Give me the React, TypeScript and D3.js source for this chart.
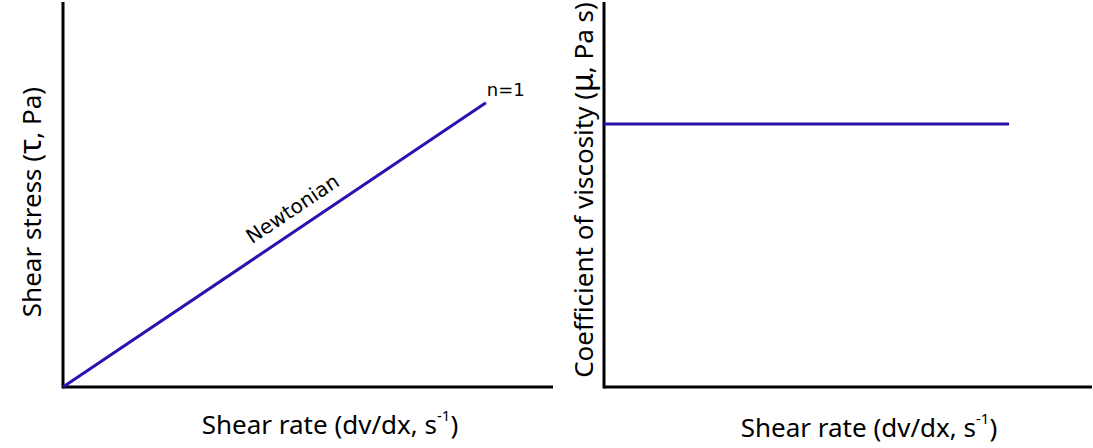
import React from 'react'
import * as d3 from 'd3'

// shear rate / response values (arbitrary units 0-10)
const stressRate = [0, 8.63]
const stressValues = [0, 7.38]
const viscosityRate = [0, 8.3]
const viscosityValues = [6.83, 6.83]

const lineColor = '#2b12b0'
const labelFont = 'Noto Sans, DejaVu Sans, sans-serif'
const smallFont = 'DejaVu Sans, Verdana, sans-serif'

const W = 1093
const H = 448

export default function App() {
  const yScale = d3.scaleLinear().domain([0, 10]).range([387, 2])
  const xLeft = d3.scaleLinear().domain([0, 10]).range([63, 553])
  const xRight = d3.scaleLinear().domain([0, 10]).range([604, 1092])

  const stressLine = d3
    .line<number>()
    .x((d, i) => xLeft(stressRate[i]))
    .y(d => yScale(d))
  const viscLine = d3
    .line<number>()
    .x((d, i) => xRight(viscosityRate[i]))
    .y(d => yScale(d))

  // label sits along the Newtonian line
  const x0 = xLeft(stressRate[0])
  const y0 = yScale(stressValues[0])
  const x1 = xLeft(stressRate[1])
  const y1 = yScale(stressValues[1])
  const angle = (Math.atan2(y1 - y0, x1 - x0) * 180) / Math.PI
  const t = 0.569
  const mx = x0 + (x1 - x0) * t
  const my = y0 + (y1 - y0) * t

  const xLabel = (cx: number, y: number) => (
    <text x={cx} y={y} textAnchor="middle" fontFamily={labelFont} fontSize={26} fill="#000">
      Shear rate (dv/dx, s
      <tspan fontSize={15} dy={-13}>-1</tspan>
      <tspan dy={13}>)</tspan>
    </text>
  )

  return (
    <svg
      width={W}
      height={H}
      style={{ position: 'absolute', left: 0, top: 0, background: '#fff' }}
    >
      {/* left panel */}
      <line x1={xLeft(0)} x2={xLeft(10)} y1={yScale(0)} y2={yScale(0)} stroke="#000" strokeWidth={3} />
      <line x1={xLeft(0)} x2={xLeft(0)} y1={yScale(0) + 1.5} y2={yScale(10)} stroke="#000" strokeWidth={3} />
      <path d={stressLine(stressValues) || ''} fill="none" stroke={lineColor} strokeWidth={3} />
      <text
        transform={`translate(${mx},${my}) rotate(${angle})`}
        y={-13}
        textAnchor="middle"
        fontFamily={smallFont}
        fontSize={20}
      >
        Newtonian
      </text>
      <text x={x1 + 1} y={y1 - 7} fontFamily={smallFont} fontSize={18}>
        n=1
      </text>
      <text
        transform={`translate(41,202) rotate(-90)`}
        textAnchor="middle"
        fontFamily={labelFont}
        fontSize={26}
      >
        Shear stress (<tspan fontSize={31}>τ</tspan>, Pa)
      </text>
      {xLabel(330, 434)}

      {/* right panel */}
      <line x1={xRight(0)} x2={xRight(10)} y1={yScale(0)} y2={yScale(0)} stroke="#000" strokeWidth={3} />
      <line x1={xRight(0)} x2={xRight(0)} y1={yScale(0) + 1.5} y2={yScale(10)} stroke="#000" strokeWidth={3} />
      <path d={viscLine(viscosityValues) || ''} fill="none" stroke={lineColor} strokeWidth={3} />
      <text
        transform={`translate(593,190) rotate(-90)`}
        textAnchor="middle"
        fontFamily={labelFont}
        fontSize={26}
      >
        Coefficient of viscosity (<tspan fontSize={30}>μ</tspan>, Pa s)
      </text>
      {xLabel(869, 437)}
    </svg>
  )
}
